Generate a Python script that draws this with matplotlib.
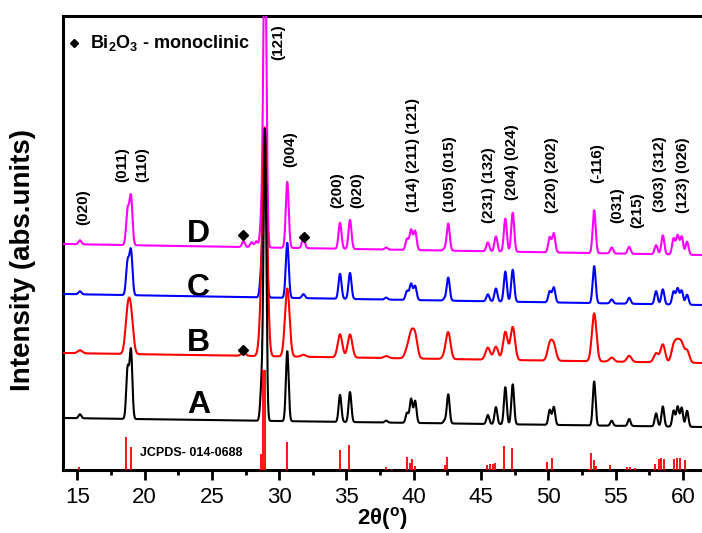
import numpy as np
import matplotlib.pyplot as plt

plt.rcParams['font.family'] = ['Liberation Sans', 'DejaVu Sans']
plt.rcParams['mathtext.fontset'] = 'custom'
plt.rcParams['mathtext.rm'] = 'Liberation Sans:bold'
plt.rcParams['mathtext.bf'] = 'Liberation Sans:bold'
plt.rcParams['mathtext.it'] = 'Liberation Sans:bold'

# peak table: 2theta and peak heights (intensity units above baseline)
pos = [15.2, 18.74, 18.99, 27.35, 27.95, 28.3, 28.7, 28.94, 30.6, 31.8, 34.52, 35.26,
       37.95, 39.5, 39.8, 40.1, 42.3, 42.56, 45.5, 46.1, 46.8, 47.35, 50.1, 50.4,
       53.4, 54.7, 56.0, 58.0, 58.5, 59.3, 59.6, 59.9, 60.3]
h_A = [4, 50, 68, 0, 0, 0, 35, 290, 70, 0, 27, 30, 2, 10, 24, 22, 3, 29, 9, 17, 37, 40,
       15, 18, 44, 5, 7, 13, 20, 16, 20, 19, 16]
h_B = [3, 38, 36, 3, 0, 0, 35, 215, 68, 2, 23, 23, 2, 8, 22, 22, 3, 26, 12, 13, 28, 33,
       16, 15, 48, 4, 6, 9, 18, 16, 17, 17, 12]
h_C = [3, 33, 44, 0, 0, 0, 30, 160, 55, 4, 25, 26, 2, 9, 16, 14, 2, 23, 7, 13, 30, 32,
       11, 15, 37, 4, 6, 13, 15, 13, 16, 14, 10]
h_D = [4, 34, 48, 6, 5, 6, 32, 330, 66, 10, 26, 29, 2, 11, 20, 19, 2, 27, 9, 15, 33, 39,
       15, 19, 43, 6, 7, 9, 19, 16, 19, 18, 13]
fwhm = {'A': 0.24, 'B': 0.4, 'C': 0.26, 'D': 0.26}
# baseline (left end, right end) of each pattern
base = {'A': (52, 43), 'B': (117, 107), 'C': (176, 165), 'D': (226, 215)}

# JCPDS 014-0688 reference lines
jc_pos = [15.1, 18.65, 19.0, 28.62, 28.82, 28.95, 30.55, 34.5, 35.2, 37.9, 38.4, 39.5,
          39.7, 39.85, 40.1, 42.3, 42.5, 45.45, 45.65, 45.85, 46.05, 46.7, 47.3, 49.9,
          50.3, 53.0, 53.2, 53.35, 53.5, 54.6, 55.85, 56.05, 56.4, 57.9, 58.2, 58.4,
          58.6, 59.3, 59.55, 59.8, 60.15]
jc_h = [3, 33, 23, 16, 100, 100, 28, 20, 25, 3, 1, 13, 7, 11, 4, 5, 13, 5, 6, 6, 7, 24,
        22, 8, 12, 1, 17, 10, 4, 5, 3, 3, 2, 6, 11, 12, 11, 11, 12, 12, 10]

# hkl labels: text, 2theta, lower end of text
hkl = ['(020)', '(011)', '(110)', '(121)', '(004)', '(200)', '(020)', '(114) (211) (121)',
       '(105) (015)', '(231) (132)', '(204) (024)', '(220) (202)', '(-116)', '(031)',
       '(215)', '(303) (312)', '(123) (026)']
hkl_x = [15.42, 18.37, 19.8, 29.91, 30.8, 34.29, 35.77, 39.94, 42.69, 45.59, 47.30,
         50.27, 53.61, 55.1, 56.58, 58.29, 60.0]
hkl_y = [245, 288, 288, 410, 303, 262, 262, 258, 258, 247, 270, 257, 287, 247, 242, 258, 257]

samples = ['A', 'B', 'C', 'D']
heights = {'A': h_A, 'B': h_B, 'C': h_C, 'D': h_D}
colors = {'A': 'black', 'B': 'red', 'C': 'blue', 'D': 'magenta'}
letter_y = [65, 127, 182, 236]

# Bi2O3 markers
dia_x = [27.3, 31.85, 27.3]
dia_y = [235, 233, 120]

x0, x1 = 13.94, 61.41
tt = np.linspace(x0, x1, 5000)

fig = plt.figure(figsize=(7.02, 5.33), dpi=100)
ax = fig.add_axes([63/702, 63/533, 639/702, 454/533])

for i, s in enumerate(samples):
    b0, b1 = base[s]
    y = b0 + (b1 - b0) * (tt - x0) / (x1 - x0)
    for p, h in zip(pos, heights[s]):
        y = y + h * np.exp(-4*np.log(2) * ((tt - p) / fwhm[s])**2)
    ax.plot(tt, y, color=colors[s], lw=1.5, zorder=6 - i)
    ax.text(24.0, letter_y[i], s, fontsize=23, fontweight='bold', ha='center', va='center')

ax.vlines(jc_pos, 0, jc_h, color='red', lw=1.3, zorder=7)
ax.text(19.67, 17, 'JCPDS- 014-0688', fontsize=9, fontweight='bold', va='center')

for t, xx, yy in zip(hkl, hkl_x, hkl_y):
    ax.text(xx, yy, t, rotation=90, ha='center', va='bottom', fontsize=11, fontweight='bold')

ax.plot(dia_x, dia_y, 'D', color='black', ms=5.5, zorder=8)
ax.plot([0.0172], [0.9405], 'D', color='black', ms=4.5, transform=ax.transAxes)
ax.text(0.0423, 0.9405, r'Bi$_\mathbf{2}$O$_\mathbf{3}$ - monoclinic', transform=ax.transAxes,
        fontsize=13, fontweight='bold', va='center')

ax.set_xlim(x0, x1)
ax.set_ylim(0, 454)
ax.set_yticks([])
ax.set_xticks([15, 20, 25, 30, 35, 40, 45, 50, 55, 60])
ax.set_xticks(np.arange(17.5, 61, 5), minor=True)
ax.tick_params(axis='x', which='major', length=7, width=2, labelsize=16, pad=5)
ax.tick_params(axis='x', which='minor', length=3.5, width=2)
for sp in ['left', 'top', 'bottom']:
    ax.spines[sp].set_linewidth(2.2)
ax.spines['right'].set_visible(False)

ax.set_xlabel(r'2$\theta$($^\mathbf{o}$)', fontsize=16, fontweight='bold', labelpad=-2)
ax.set_ylabel('Intensity (abs.units)', fontsize=20, fontweight='bold')
ax.yaxis.set_label_coords(-0.042, 0.4626)

fig.savefig('out.png', dpi=100)
